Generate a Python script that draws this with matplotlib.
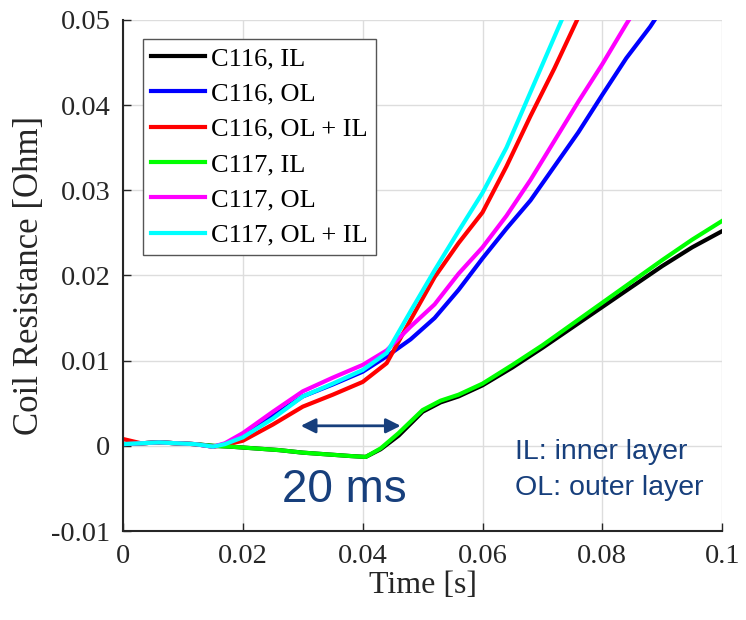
import matplotlib.pyplot as plt

# time axes [s]
t_il = [0, 0.003, 0.006, 0.009, 0.012, 0.015, 0.018, 0.022, 0.026, 0.03, 0.034, 0.038,
        0.0405, 0.043, 0.046, 0.05, 0.053, 0.056, 0.06, 0.065, 0.07, 0.075, 0.08,
        0.085, 0.09, 0.095, 0.1]
c116_il = [0.0002, 0.0003, 0.0004, 0.0003, 0.0002, 0.0000, -0.0001, -0.0003, -0.0005,
           -0.0008, -0.0010, -0.0012, -0.0013, -0.0004, 0.0012, 0.0040, 0.0051, 0.0058,
           0.0071, 0.0092, 0.0115, 0.0139, 0.0163, 0.0187, 0.0211, 0.0233, 0.0252]
c117_il = [0.0002, 0.0003, 0.0004, 0.0003, 0.0002, 0.0000, -0.0001, -0.0003, -0.0005,
           -0.0008, -0.0010, -0.0012, -0.0013, -0.0003, 0.0015, 0.0042, 0.0053, 0.0060,
           0.0073, 0.0095, 0.0118, 0.0143, 0.0168, 0.0193, 0.0218, 0.0242, 0.0264]

t_ol = [0, 0.003, 0.006, 0.009, 0.012, 0.015, 0.017, 0.02, 0.025, 0.03, 0.035, 0.04,
        0.044, 0.048, 0.052, 0.056, 0.06, 0.064, 0.068, 0.072, 0.076, 0.08, 0.084,
        0.088, 0.092]
c116_ol = [0.0002, 0.0003, 0.0004, 0.0003, 0.0002, -0.0001, 0.0002, 0.0012, 0.0035,
           0.0058, 0.0072, 0.0087, 0.0105, 0.0125, 0.0150, 0.0183, 0.0220, 0.0255,
           0.0288, 0.0328, 0.0368, 0.0412, 0.0455, 0.0492, 0.0535]
c116_olil = [0.0008, 0.0003, 0.0004, 0.0003, 0.0002, -0.0001, 0.0001, 0.0006, 0.0025,
             0.0046, 0.0060, 0.0075, 0.0097, 0.0148, 0.0198, 0.0238, 0.0274, 0.0328,
             0.0387, 0.0443, 0.0503, 0.0560, 0.0620, 0.0680, 0.0740]
c117_ol = [0.0002, 0.0003, 0.0004, 0.0003, 0.0002, -0.0001, 0.0003, 0.0015, 0.0040,
           0.0064, 0.0080, 0.0095, 0.0112, 0.0140, 0.0166, 0.0202, 0.0233, 0.0270,
           0.0312, 0.0358, 0.0404, 0.0448, 0.0495, 0.0540, 0.0585]
c117_olil = [0.0002, 0.0003, 0.0004, 0.0003, 0.0002, -0.0001, 0.0002, 0.0010, 0.0032,
             0.0058, 0.0073, 0.0089, 0.0109, 0.0158, 0.0206, 0.0252, 0.0297, 0.0350,
             0.0415, 0.0480, 0.0545, 0.0610, 0.0675, 0.0740, 0.0805]

navy = '#173f7c'
serif = ['Liberation Serif', 'DejaVu Serif']
sans = ['Liberation Sans', 'DejaVu Sans']
plt.rcParams['font.family'] = serif

fig = plt.figure(figsize=(7.46, 6.2), dpi=100)
ax = fig.add_axes([0.165, 0.1435, 0.803, 0.8245])

lw = 3
ax.plot(t_il, c116_il, color='black', lw=lw, label='C116, IL')
ax.plot(t_ol, c116_ol, color='#0000ff', lw=lw, label='C116, OL')
ax.plot(t_ol, c116_olil, color='#ff0000', lw=lw, label='C116, OL + IL')
ax.plot(t_il, c117_il, color='#00ff00', lw=lw, label='C117, IL')
ax.plot(t_ol, c117_ol, color='#ff00ff', lw=lw, label='C117, OL')
ax.plot(t_ol, c117_olil, color='#00ffff', lw=lw, label='C117, OL + IL')

ax.set_xlim(0, 0.1)
ax.set_ylim(-0.01, 0.05)
ax.set_xticks([0, 0.02, 0.04, 0.06, 0.08, 0.1])
ax.set_xticklabels(['0', '0.02', '0.04', '0.06', '0.08', '0.1'])
ax.set_yticks([-0.01, 0, 0.01, 0.02, 0.03, 0.04, 0.05])
ax.set_yticklabels(['-0.01', '0', '0.01', '0.02', '0.03', '0.04', '0.05'])
ax.grid(True, color='#dddddd', lw=1)
ax.set_axisbelow(True)
for s in ['top', 'right']:
    ax.spines[s].set_visible(False)
for s in ['left', 'bottom']:
    ax.spines[s].set_color('#262626')
    ax.spines[s].set_linewidth(1.5)
ax.tick_params(direction='in', length=6, width=1, colors='#262626', labelsize=20.5, pad=9)

ax.set_xlabel('Time [s]', fontsize=23, color='#262626', labelpad=2)
ax.set_ylabel('Coil Resistance [Ohm]', fontsize=25, color='#262626', labelpad=4)

leg = ax.legend(loc='upper left', bbox_to_anchor=(0.033, 0.963), prop={'size': 19},
                fancybox=False, framealpha=1, edgecolor='#555555', handlelength=2.05,
                handletextpad=0.25, borderpad=0.3, borderaxespad=0, labelspacing=0.45)
leg.get_frame().set_linewidth(1)

ax.annotate('', xy=(0.0292, 0.00235), xytext=(0.0468, 0.00235),
            arrowprops=dict(arrowstyle='<|-|>', color=navy, lw=2, mutation_scale=22))
ax.text(0.037, -0.0052, '20 ms', family=sans, fontsize=33, color=navy, ha='center', va='center')
ax.text(0.0655, -0.0007, 'IL: inner layer', family=sans, fontsize=20.5, color=navy, va='center')
ax.text(0.0655, -0.0049, 'OL: outer layer', family=sans, fontsize=20.5, color=navy, va='center')

fig.savefig('out.png', dpi=100)
